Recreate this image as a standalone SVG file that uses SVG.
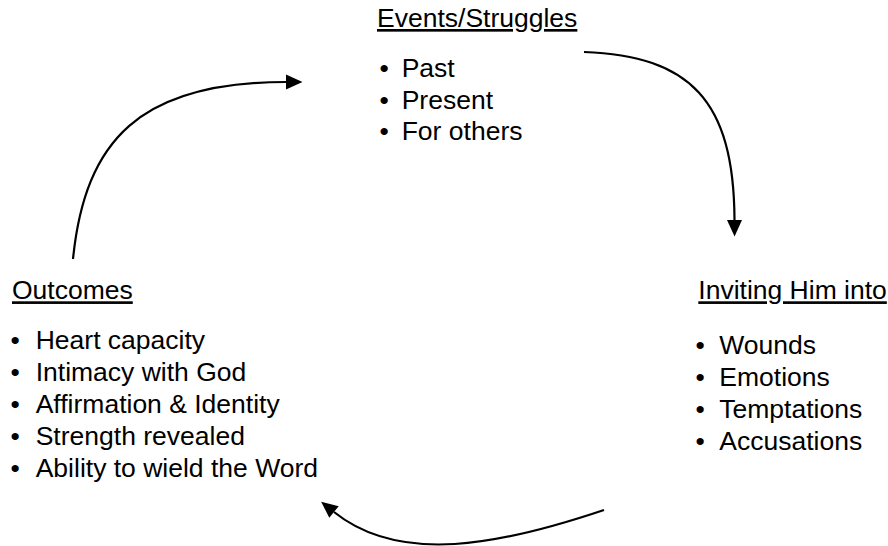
<svg xmlns="http://www.w3.org/2000/svg" width="888" height="546" viewBox="0 0 888 546">
<style>
  text { font-family: "Liberation Sans", Arial, sans-serif; font-size: 26.5px; fill: #000; }
  .title { text-decoration: underline; }
  .conn { fill: none; stroke: #000; stroke-width: 2.2; }
</style>
<defs>
  <marker id="arrow" markerUnits="userSpaceOnUse" markerWidth="18" markerHeight="16" refX="0" refY="7.5" orient="auto" overflow="visible">
    <path d="M0,0 L16.5,7.5 L0,15 Z" fill="#000"/>
  </marker>
</defs>
<rect width="888" height="546" fill="#fff"/>
<g id="events">
  <text class="title" x="377" y="27">Events/Struggles</text>
  <text x="379.5" y="77">•<tspan x="401.7">Past</tspan></text>
  <text x="379.5" y="108.5">•<tspan x="401.7">Present</tspan></text>
  <text x="379.5" y="140">•<tspan x="401.7">For others</tspan></text>
</g>
<g id="inviting">
  <text class="title" x="698.3" y="299.3">Inviting Him into</text>
  <text x="695.5" y="354">•<tspan x="719.3">Wounds</tspan></text>
  <text x="695.5" y="386">•<tspan x="719.3">Emotions</tspan></text>
  <text x="695.5" y="418">•<tspan x="719.3">Temptations</tspan></text>
  <text x="695.5" y="450">•<tspan x="719.3">Accusations</tspan></text>
</g>
<g id="outcomes">
  <text class="title" x="12" y="299.3">Outcomes</text>
  <text x="10.5" y="349">•<tspan x="35.7">Heart capacity</tspan></text>
  <text x="10.5" y="381">•<tspan x="35.7">Intimacy with God</tspan></text>
  <text x="10.5" y="413">•<tspan x="35.7">Affirmation &amp; Identity</tspan></text>
  <text x="10.5" y="445">•<tspan x="35.7">Strength revealed</tspan></text>
  <text x="10.5" y="477">•<tspan x="35.7">Ability to wield the Word</tspan></text>
</g>
<g id="connectors">
  <path class="conn" d="M73,259 C85,140 140,82 286,82" marker-end="url(#arrow)"/>
  <path class="conn" d="M584,52 C690,56 734,100 734.5,220" marker-end="url(#arrow)"/>
  <path class="conn" d="M604,510 C500,545 400,565 334,512" marker-end="url(#arrow)"/>
</g>
</svg>
